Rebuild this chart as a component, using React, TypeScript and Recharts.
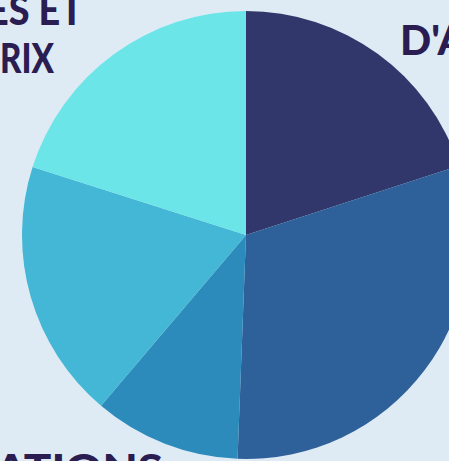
import { PieChart, Pie, Cell } from "recharts";

const categories = ["D'ACHAT", "B", "LOCATIONS", "D", "SERVICES ET PRIX"];
const values = [20, 30.6, 10.6, 18.7, 20.1];
const colors = ["#31376b", "#2e609a", "#2c8bbb", "#43b7d5", "#6be5e8"];

const data = categories.map((name, i) => ({ name, value: values[i] }));

const labelStyle = {
  fontFamily: "Lato, 'Open Sans', sans-serif",
  fontWeight: 900,
  fontSize: 41,
  fill: "#2a1d52",
};

export default function App() {
  return (
    <div style={{ position: "relative", width: 449, height: 461, background: "#dfebf4", overflow: "hidden" }}>
      <style>{`body{margin:0}`}</style>
      <PieChart width={449} height={461} margin={{ top: 0, right: 0, bottom: 0, left: 0 }}>
        <Pie
          data={data}
          dataKey="value"
          nameKey="name"
          cx={246}
          cy={235}
          outerRadius={224}
          startAngle={90}
          endAngle={-270}
          stroke="none"
          isAnimationActive={false}
        >
          {data.map((d, i) => (
            <Cell key={d.name} fill={colors[i]} />
          ))}
        </Pie>
      </PieChart>
      <svg
        width={449}
        height={461}
        style={{ position: "absolute", left: 0, top: 0, pointerEvents: "none" }}
      >
        <text x={-13} y={25} textLength={96} lengthAdjust="spacingAndGlyphs" style={labelStyle}>ES ET</text>
        <text x={0} y={73} textLength={54} lengthAdjust="spacingAndGlyphs" style={labelStyle}>RIX</text>
        <text x={400} y={55} style={labelStyle}>D'A</text>
        <text x={-5} y={484} textLength={168} lengthAdjust="spacingAndGlyphs" style={labelStyle}>ATIONS</text>
      </svg>
    </div>
  );
}
